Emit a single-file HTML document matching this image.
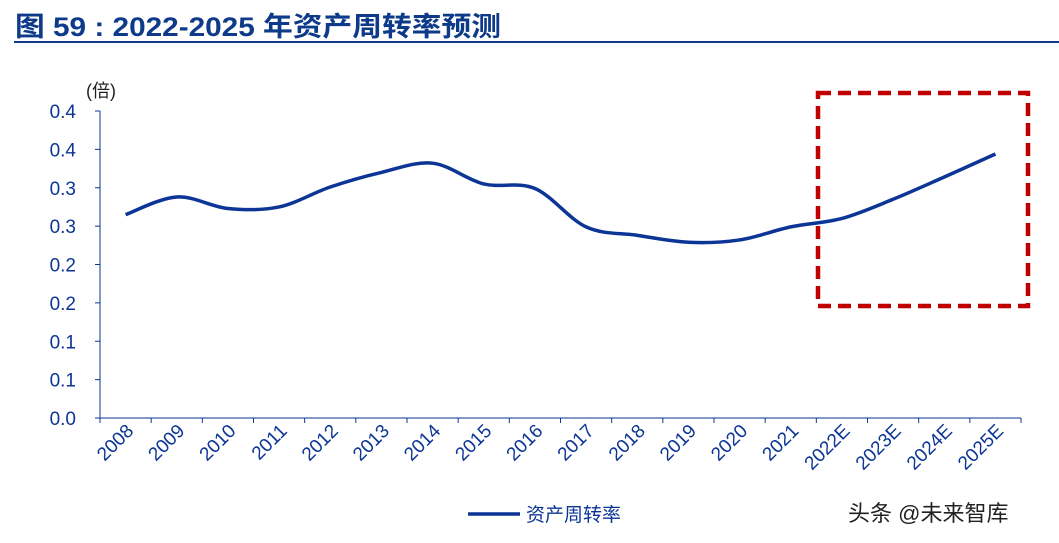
<!DOCTYPE html>
<html><head><meta charset="utf-8"><style>
body{margin:0;background:#fff;width:1059px;height:538px;overflow:hidden;font-family:"Liberation Sans","Noto Sans CJK SC",sans-serif;}
</style></head><body>
<svg width="1059" height="538" xmlns="http://www.w3.org/2000/svg" id="chart">
<text x="15" y="36" font-size="27" font-weight="bold" fill="#0e3a8a" textLength="486" lengthAdjust="spacingAndGlyphs" font-family="Liberation Sans,Noto Sans CJK SC,sans-serif">图 59 : 2022-2025 年资产周转率预测</text>
<rect x="14" y="41" width="1045" height="2" fill="#0e3a8a"/>
<text x="86" y="97" font-size="18" fill="#222">(倍)</text>
<g id="axes"></g>
<path id="line" fill="none" stroke="#0c3596" stroke-width="3.5"/>
<rect x="818" y="93" width="210" height="213" fill="none" stroke="#c00000" stroke-width="4.5" stroke-dasharray="13,7"/>
<line x1="468" y1="514" x2="520" y2="514" stroke="#0c3596" stroke-width="3.5"/>
<text x="526" y="521" font-size="19" fill="#0c3596">资产周转率</text>
<text x="848" y="521" font-size="22" fill="#222">头条 @未来智库</text>
</svg>
<script>
const categories=["2008","2009","2010","2011","2012","2013","2014","2015","2016","2017","2018","2019","2020","2021","2022E","2023E","2024E","2025E"];
const values=[0.265,0.288,0.273,0.275,0.301,0.320,0.332,0.305,0.299,0.249,0.238,0.229,0.232,0.249,0.260,0.285,0.314,0.344];
const yTicks=[0,0.05,0.1,0.15,0.2,0.25,0.3,0.35,0.4];
const yTickLabels=["0.0","0.1","0.1","0.2","0.2","0.3","0.3","0.4","0.4"];
const NS="http://www.w3.org/2000/svg";
const x0=100,x1=1021,yB=418,yT=111,yMax=0.4;
const step=(x1-x0)/categories.length;
const xs=i=>x0+step*(i+0.5);
const ys=v=>yB-(v/yMax)*(yB-yT);
const g=document.getElementById('axes');
function mk(t,a){const e=document.createElementNS(NS,t);for(const k in a)e.setAttribute(k,a[k]);g.appendChild(e);return e;}
let e=mk('line',{x1:x0,y1:yT,x2:x0,y2:yB,stroke:'#0c3596','stroke-width':1});


e=mk('line',{x1:x0,y1:yB,x2:x1,y2:yB,stroke:'#0c3596','stroke-width':1});


yTicks.forEach((v,i)=>{
 mk('line',{x1:x0-5,y1:ys(v),x2:x0,y2:ys(v),stroke:'#0c3596'});
 const t=mk('text',{x:x0-24,y:ys(v)+7,'font-size':19,fill:'#0c3596','text-anchor':'end'});
 t.textContent=yTickLabels[i];
 
 
});
for(let i=0;i<=categories.length;i++){mk('line',{x1:x0+step*i,y1:yB,x2:x0+step*i,y2:yB+5,stroke:'#0c3596'});}
categories.forEach((c,i)=>{
 const x=xs(i)+9,y=yB+14;
 const t=mk('text',{x:x,y:y,'font-size':19,fill:'#0c3596','text-anchor':'end',transform:`rotate(-45 ${x} ${y})`});
 t.textContent=c;
 
 
});
const P=values.map((v,i)=>[xs(i),ys(v)]);
let d=`M${P[0][0]},${P[0][1]}`;
for(let i=0;i<P.length-1;i++){
 const p0=P[i-1]||P[i],p1=P[i],p2=P[i+1],p3=P[i+2]||P[i+1];
 const c1=[p1[0]+(p2[0]-p0[0])/6,p1[1]+(p2[1]-p0[1])/6];
 const c2=[p2[0]-(p3[0]-p1[0])/6,p2[1]-(p3[1]-p1[1])/6];
 d+=` C${c1[0]},${c1[1]} ${c2[0]},${c2[1]} ${p2[0]},${p2[1]}`;
}
document.getElementById('line').setAttribute('d',d);
</script>
</body></html>
